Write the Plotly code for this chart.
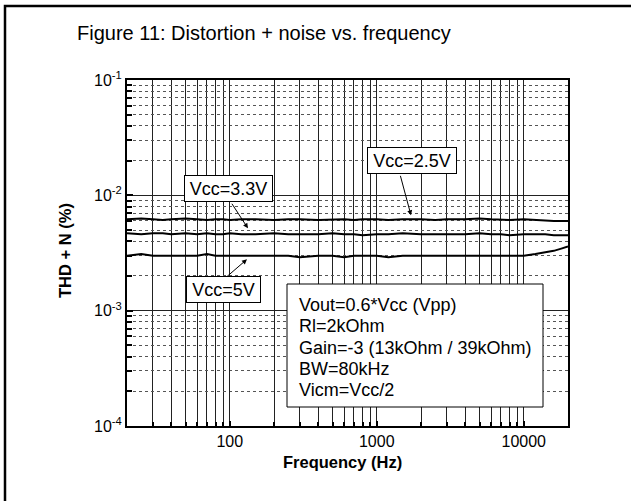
import math
import plotly.graph_objects as go

# ---------------- data ----------------
freq = [20, 25, 30, 35, 40, 50, 60, 70, 80, 90, 100, 120, 150, 200, 250, 300, 400, 500,
        600, 700, 800, 1000, 1200, 1500, 2000, 2500, 3000, 4000, 5000, 6000, 7000, 8000,
        10000, 12000, 14000, 16000, 18000, 20000]
thd_vcc25 = [0.0062, 0.0063, 0.0062, 0.0061, 0.0062, 0.0063, 0.0062, 0.0061, 0.0062, 0.0062,
             0.0061, 0.0062, 0.0062, 0.0061, 0.0062, 0.0062, 0.0061, 0.0062, 0.0062, 0.0061,
             0.0062, 0.0062, 0.0061, 0.0062, 0.0062, 0.0061, 0.0062, 0.0062, 0.0063, 0.0062,
             0.0061, 0.0061, 0.0062, 0.0061, 0.0060, 0.0060, 0.0060, 0.0060]
thd_vcc33 = [0.0047, 0.0046, 0.0047, 0.0047, 0.0046, 0.0047, 0.0046, 0.0047, 0.0046, 0.0046,
             0.0047, 0.0046, 0.0046, 0.0047, 0.0046, 0.0046, 0.0046, 0.0047, 0.0046, 0.0046,
             0.0045, 0.0046, 0.0046, 0.0047, 0.0046, 0.0046, 0.0046, 0.0046, 0.0047, 0.0046,
             0.0046, 0.0045, 0.0046, 0.0046, 0.0046, 0.0045, 0.0045, 0.0045]
thd_vcc5 = [0.0030, 0.0031, 0.0030, 0.0030, 0.0030, 0.0030, 0.0030, 0.0031, 0.0030, 0.0030,
            0.0030, 0.0030, 0.0030, 0.0030, 0.0030, 0.0029, 0.0030, 0.0030, 0.0029, 0.0030,
            0.0030, 0.0030, 0.0029, 0.0030, 0.0030, 0.0030, 0.0030, 0.0030, 0.0030, 0.0030,
            0.0030, 0.0030, 0.0030, 0.0031, 0.0032, 0.0033, 0.00345, 0.0036]

x_tick_vals = [100, 1000, 10000]
x_tick_text = ["100", "1000", "10000"]
y_tick_vals = [1e-4, 1e-3, 1e-2, 1e-1]
y_tick_text = ["10<sup>-4</sup>", "10<sup>-3</sup>", "10<sup>-2</sup>", "10<sup>-1</sup>"]

series_labels = ["Vcc=2.5V", "Vcc=3.3V", "Vcc=5V"]
# arrow tips (freq, thd) for each label
arrow_tips = [(1710, 0.00671), (133, 0.00518), (131, 0.00279)]

conditions = ["Vout=0.6*Vcc (Vpp)", "Rl=2kOhm", "Gain=-3 (13kOhm / 39kOhm)",
              "BW=80kHz", "Vicm=Vcc/2"]

title_text = "Figure 11: Distortion + noise vs. frequency"
x_title = "Frequency (Hz)"
y_title = "THD + N (%)"

# ---------------- figure ----------------
W, H = 631, 501
L, R, T, B = 127, 63, 80, 75
pw, ph = W - L - R, H - T - B


def px(xp):
    return (xp - L) / pw


def py(yp):
    return (H - B - yp) / ph


FONT = "Liberation Sans, Arial, sans-serif"

fig = go.Figure()
for vals in (thd_vcc25, thd_vcc33, thd_vcc5):
    fig.add_trace(go.Scatter(x=freq, y=vals, mode="lines",
                             line=dict(color="black", width=2), showlegend=False,
                             hoverinfo="skip"))

x_minor = [k * 10 ** d for d in range(1, 5) for k in range(2, 10) if 20 <= k * 10 ** d <= 20000]
y_minor = [k * 10.0 ** d for d in range(-4, -1) for k in range(2, 10)]

fig.update_xaxes(type="log", range=[math.log10(20), math.log10(20000)],
                 tickmode="array", tickvals=x_tick_vals, ticktext=x_tick_text,
                 showgrid=True, gridcolor="#222", gridwidth=1,
                 ticks="inside", ticklen=5, tickwidth=2, tickcolor="black",
                 showline=True, linecolor="black", linewidth=2, mirror=True,
                 tickfont=dict(family=FONT, size=16, color="black"),
                 minor=dict(tickmode="array", tickvals=x_minor, showgrid=True,
                            gridcolor="#222", gridwidth=1, ticks="inside",
                            ticklen=4, tickwidth=2, tickcolor="black"),
                 zeroline=False)
fig.update_yaxes(type="log", range=[-4, -1],
                 tickmode="array", tickvals=y_tick_vals, ticktext=y_tick_text,
                 showgrid=True, gridcolor="#222", gridwidth=1,
                 ticks="inside", ticklen=6, tickwidth=2, tickcolor="black",
                 showline=True, linecolor="black", linewidth=2, mirror=True,
                 tickfont=dict(family=FONT, size=16, color="black"),
                 minor=dict(tickmode="array", tickvals=y_minor, showgrid=True,
                            gridcolor="#555", gridwidth=1, griddash="dot",
                            ticks="inside", ticklen=5, tickwidth=2, tickcolor="black"),
                 zeroline=False)

shapes = []
# outer frame (only left and top edges fall inside the picture)
fx0, fy_top = px(5), py(6)
fx1, fy_bot = px(700), py(600)
shapes.append(dict(type="path", xref="paper", yref="paper",
                   path=f"M {fx0},{fy_bot} L {fx0},{fy_top} L {fx1},{fy_top}",
                   line=dict(color="black", width=2.5), layer="above"))
# conditions box
shapes.append(dict(type="rect", xref="paper", yref="paper",
                   x0=px(287), x1=px(543), y0=py(407), y1=py(284),
                   line=dict(color="black", width=1), fillcolor="white", layer="above"))

annotations = []
annotations.append(dict(text=title_text, xref="paper", yref="paper", x=px(264), y=py(33),
                        showarrow=False, font=dict(family=FONT, size=20, color="black"),
                        xanchor="center", yanchor="middle"))
annotations.append(dict(text="<b>" + x_title + "</b>", xref="paper", yref="paper",
                        x=px(342), y=py(462), showarrow=False,
                        font=dict(family=FONT, size=16.5, color="black"),
                        xanchor="center", yanchor="middle"))
annotations.append(dict(text="<b>" + y_title + "</b>", xref="paper", yref="paper",
                        x=px(65), y=py(251), showarrow=False, textangle=-90,
                        font=dict(family=FONT, size=16.5, color="black"),
                        xanchor="center", yanchor="middle"))

# arrows (tail offsets in pixels)
tails = [(-11, -41), (-17, -26), (-22, 19)]
for (fx, fy), (ax, ay) in zip(arrow_tips, tails):
    annotations.append(dict(text="", x=math.log10(fx), y=math.log10(fy), xref="x", yref="y",
                            ax=ax, ay=ay, showarrow=True, arrowhead=2, arrowsize=1,
                            arrowwidth=1, arrowcolor="black", standoff=0, startstandoff=0))

# label boxes
box_centers = [(412, 160.5), (228.5, 188.5), (223.5, 289)]
box_widths = [86, 85, 71]
for lab, (cx, cy), bw in zip(series_labels, box_centers, box_widths):
    annotations.append(dict(text=lab, xref="paper", yref="paper", x=px(cx), y=py(cy),
                            showarrow=False, xanchor="center", yanchor="middle",
                            font=dict(family=FONT, size=18, color="black"),
                            bgcolor="white", bordercolor="black", borderwidth=1,
                            borderpad=1, width=bw, height=23))

cond_y = [305, 326, 348, 369, 390]
for txt, yy in zip(conditions, cond_y):
    annotations.append(dict(text=txt, xref="paper", yref="paper", x=px(297), y=py(yy),
                            showarrow=False, xanchor="left", yanchor="middle",
                            font=dict(family=FONT, size=18, color="black")))

fig.update_layout(width=W, height=H, margin=dict(l=L, r=R, t=T, b=B, pad=0),
                  paper_bgcolor="white", plot_bgcolor="white",
                  shapes=shapes, annotations=annotations,
                  font=dict(family=FONT, color="black"))

fig.write_html("out.html", config={"displayModeBar": False},
               post_script="document.body.style.margin='0px';"
                           "document.body.style.overflow='hidden';")
